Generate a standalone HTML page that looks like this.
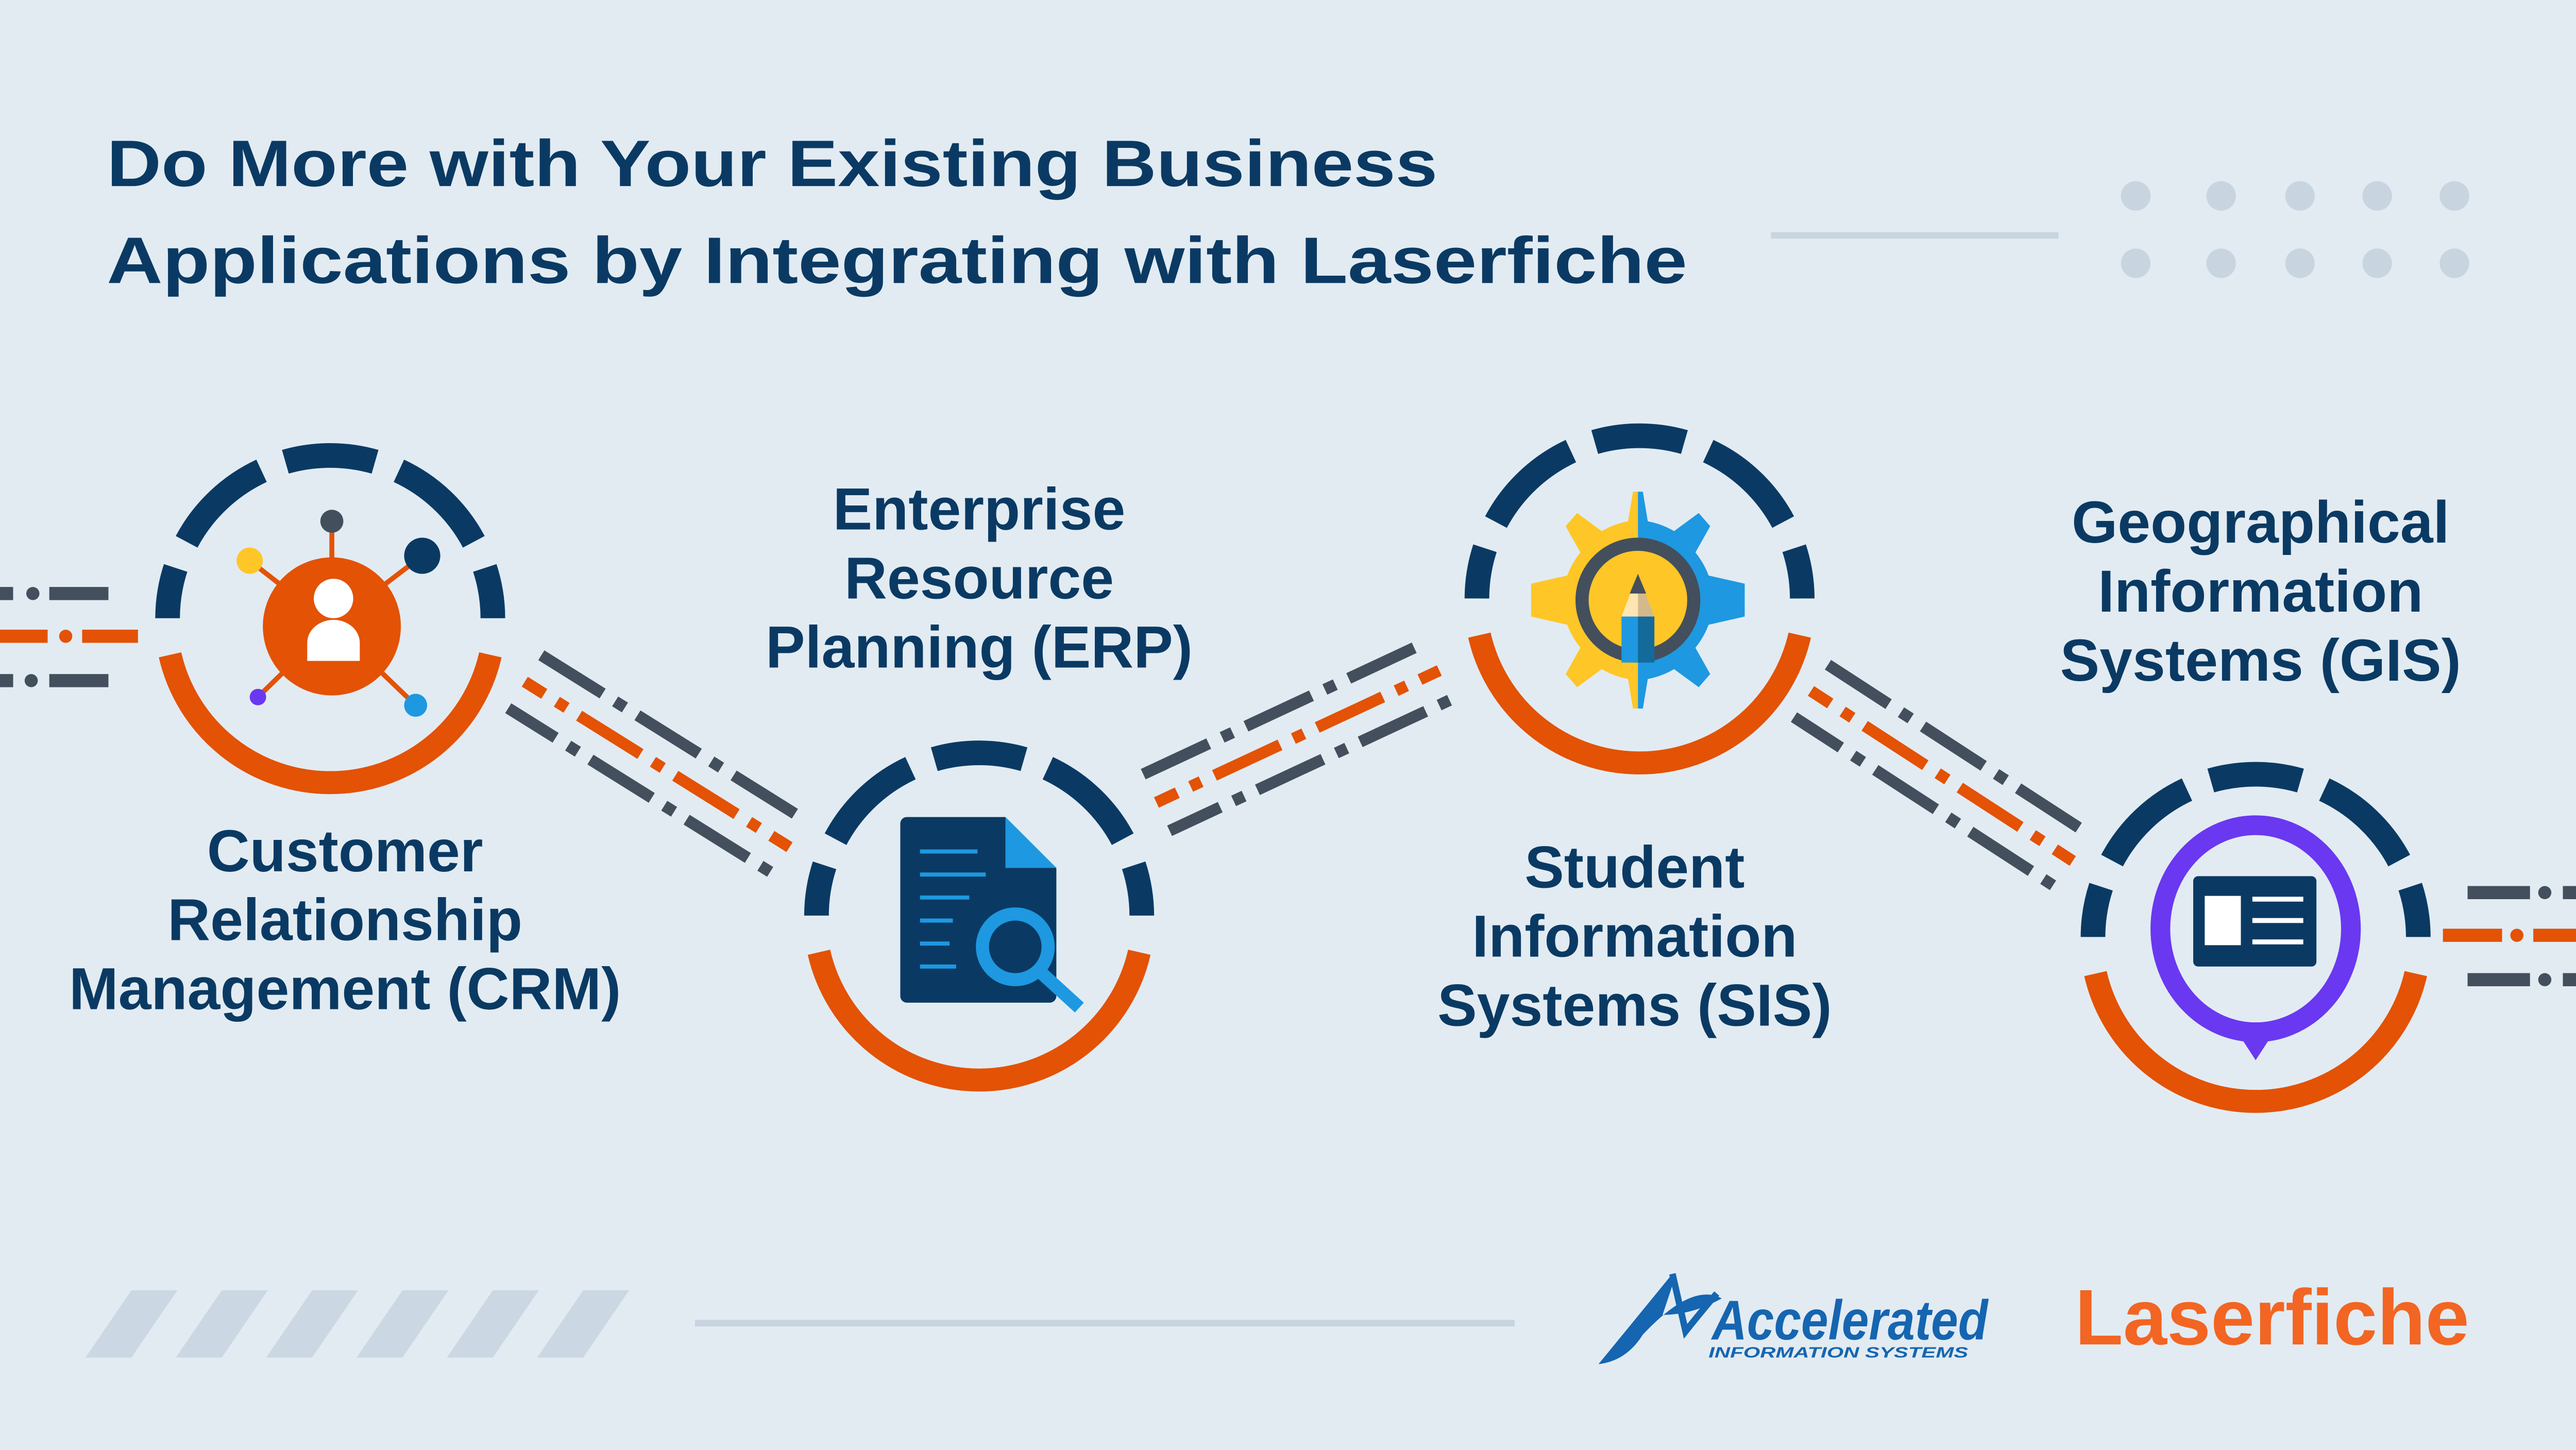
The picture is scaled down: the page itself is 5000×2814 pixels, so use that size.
<!DOCTYPE html>
<html><head><meta charset="utf-8"><style>
html,body{margin:0;padding:0;background:#e2ebf2;}
svg{display:block;}
text{font-family:"Liberation Sans",sans-serif;font-weight:bold;}
</style></head><body>
<svg width="5000" height="2814" viewBox="0 0 1568 882" xmlns="http://www.w3.org/2000/svg">
<rect width="1568" height="882" fill="#e2ebf2"/>
<defs>
<g id="ring">
  <g fill="none" stroke="#0a3a63" stroke-width="15">
    <path d="M99,0 A99,99 0 0 0 94.1,-30.6"/>
    <path d="M87.4,-46.5 A99,99 0 0 0 41.8,-89.7"/>
    <path d="M27.3,-95.2 A99,99 0 0 0 -27.3,-95.2"/>
    <path d="M-41.8,-89.7 A99,99 0 0 0 -87.4,-46.5"/>
    <path d="M-94.1,-30.6 A99,99 0 0 0 -99,0"/>
  </g>
  <path d="M-97.5,22.3 A100,100 0 0 0 97.5,22.3" fill="none" stroke="#e35205" stroke-width="14"/>
</g>
<g id="conn">
  <line x1="-95" y1="-19" x2="95" y2="-19" stroke="#434f5c" stroke-width="7" stroke-dasharray="44 9 7 9"/>
  <line x1="-95" y1="0" x2="95" y2="0" stroke="#e35205" stroke-width="7" stroke-dasharray="44 9 7 9" stroke-dashoffset="30"/>
  <line x1="-95" y1="19" x2="95" y2="19" stroke="#434f5c" stroke-width="7" stroke-dasharray="44 9 7 9" stroke-dashoffset="10"/>
</g>
</defs>

<text x="65" y="113" font-size="40" fill="#0a3a63" textLength="810" lengthAdjust="spacingAndGlyphs">Do More with Your Existing Business</text>
<text x="65" y="172" font-size="40" fill="#0a3a63" textLength="962" lengthAdjust="spacingAndGlyphs">Applications by Integrating with Laserfiche</text>
<line x1="1078" y1="143" x2="1253" y2="143" stroke="#c8d5e0" stroke-width="4"/>
<g fill="#c8d5e0">
<circle cx="1300" cy="119" r="9"/><circle cx="1352" cy="119" r="9"/><circle cx="1400" cy="119" r="9"/><circle cx="1447" cy="119" r="9"/><circle cx="1494" cy="119" r="9"/>
<circle cx="1300" cy="160" r="9"/><circle cx="1352" cy="160" r="9"/><circle cx="1400" cy="160" r="9"/><circle cx="1447" cy="160" r="9"/><circle cx="1494" cy="160" r="9"/>
</g>

<g stroke-width="8">
<line x1="0" y1="361" x2="8" y2="361" stroke="#434f5c"/>
<line x1="30" y1="361" x2="66" y2="361" stroke="#434f5c"/>
<line x1="0" y1="387" x2="29" y2="387" stroke="#e35205"/>
<line x1="50" y1="387" x2="84" y2="387" stroke="#e35205"/>
<line x1="0" y1="414" x2="8" y2="414" stroke="#434f5c"/>
<line x1="30" y1="414" x2="66" y2="414" stroke="#434f5c"/>
<line x1="1502" y1="543" x2="1540" y2="543" stroke="#434f5c"/>
<line x1="1560" y1="543" x2="1568" y2="543" stroke="#434f5c"/>
<line x1="1487" y1="569" x2="1523" y2="569" stroke="#e35205"/>
<line x1="1542" y1="569" x2="1568" y2="569" stroke="#e35205"/>
<line x1="1502" y1="596" x2="1540" y2="596" stroke="#434f5c"/>
<line x1="1560" y1="596" x2="1568" y2="596" stroke="#434f5c"/>
</g>
<circle cx="20" cy="361" r="4" fill="#434f5c"/><circle cx="40" cy="387" r="4" fill="#e35205"/><circle cx="19" cy="414" r="4" fill="#434f5c"/>
<circle cx="1549" cy="543" r="4" fill="#434f5c"/><circle cx="1532" cy="569" r="4" fill="#e35205"/><circle cx="1549" cy="596" r="4" fill="#434f5c"/>

<use href="#conn" transform="translate(400,465) rotate(32)"/>
<use href="#conn" transform="translate(790,448) rotate(-25)"/>
<use href="#conn" transform="translate(1182,472) rotate(33)"/>

<use href="#ring" transform="translate(201,376)"/>
<use href="#ring" transform="translate(596,557)"/>
<use href="#ring" transform="translate(998,364)"/>
<use href="#ring" transform="translate(1373,570)"/>

<g stroke="#e35205" stroke-width="3">
<line x1="202" y1="380" x2="202" y2="318"/><line x1="202" y1="380" x2="257" y2="338"/>
<line x1="202" y1="380" x2="152" y2="341"/><line x1="202" y1="380" x2="157" y2="424"/>
<line x1="202" y1="380" x2="253" y2="429"/>
</g>
<circle cx="202" cy="381" r="42" fill="#e35205"/>
<circle cx="203" cy="364" r="12" fill="#fff"/>
<path d="M187,402 v-11 a16,14 0 0 1 32,0 v11 z" fill="#fff"/>
<circle cx="202" cy="317" r="7" fill="#434f5c"/>
<circle cx="257" cy="338" r="11" fill="#0a3a63"/>
<circle cx="152" cy="341" r="8" fill="#ffc627"/>
<circle cx="157" cy="424" r="5" fill="#6a38f0"/>
<circle cx="253" cy="429" r="7" fill="#1e98e0"/>

<path d="M552,497 H612 L643,528 V606 a4,4 0 0 1 -4,4 H552 a4,4 0 0 1 -4,-4 V501 a4,4 0 0 1 4,-4z" fill="#0a3a63"/>
<path d="M612,497 L643,528 H612z" fill="#1e98e0"/>
<g stroke="#1e98e0" stroke-width="2.5">
<line x1="560" y1="518" x2="595" y2="518"/><line x1="560" y1="532" x2="600" y2="532"/>
<line x1="560" y1="546" x2="590" y2="546"/><line x1="560" y1="560" x2="580" y2="560"/>
<line x1="560" y1="574" x2="578" y2="574"/><line x1="560" y1="588" x2="582" y2="588"/>
</g>
<line x1="634" y1="592" x2="657" y2="613" stroke="#1e98e0" stroke-width="8"/>
<circle cx="618" cy="576" r="24" fill="#1e98e0"/>
<circle cx="618" cy="576" r="16" fill="#0a3a63"/>

<g transform="translate(997,365)">
<g fill="#ffc627">
<path d="M0,-66 v132 h-3 l-3,-18 a50,50 0 0 1 -16,-6 l-15,11 l-7,-8 l9,-16 a50,50 0 0 1 -8,-14 l-22,-5 v-20 l22,-5 a50,50 0 0 1 8,-14 l-9,-16 l7,-8 l15,11 a50,50 0 0 1 16,-6 l3,-18z"/>
</g>
<g fill="#1e98e0" transform="scale(-1,1)">
<path d="M0,-66 v132 h-3 l-3,-18 a50,50 0 0 1 -16,-6 l-15,11 l-7,-8 l9,-16 a50,50 0 0 1 -8,-14 l-22,-5 v-20 l22,-5 a50,50 0 0 1 8,-14 l-9,-16 l7,-8 l15,11 a50,50 0 0 1 16,-6 l3,-18z"/>
</g>
<circle r="34" fill="#ffc627" stroke="#434f5c" stroke-width="8"/>
<path d="M-10,10 L0,-16 L10,10z" fill="#fde6b4"/>
<path d="M0,-16 L10,10 H0z" fill="#d4b98a"/>
<path d="M-5,-4 L0,-16 L5,-4z" fill="#434f5c"/>
<rect x="-10" y="10" width="20" height="28" fill="#1e98e0"/>
<rect x="0" y="10" width="10" height="28" fill="#146a9a"/>
</g>

<path d="M1373,645 L1358,622 L1388,622z" fill="#6a38f0"/>
<ellipse cx="1373" cy="565" rx="58" ry="63" fill="none" stroke="#6a38f0" stroke-width="12"/>
<rect x="1335" y="533" width="75" height="55" rx="3" fill="#0a3a63"/>
<rect x="1342" y="545" width="22" height="30" fill="#fff"/>
<g stroke="#fff" stroke-width="3"><line x1="1371" y1="547" x2="1402" y2="547"/><line x1="1371" y1="560" x2="1402" y2="560"/><line x1="1371" y1="573" x2="1402" y2="573"/></g>

<g font-size="36" fill="#0a3a63" text-anchor="middle">
<text x="210" y="530">Customer</text>
<text x="210" y="572">Relationship</text>
<text x="210" y="614">Management (CRM)</text>
<text x="596" y="322">Enterprise</text>
<text x="596" y="364">Resource</text>
<text x="596" y="406">Planning (ERP)</text>
<text x="995" y="540">Student</text>
<text x="995" y="582">Information</text>
<text x="995" y="624">Systems (SIS)</text>
<text x="1376" y="330">Geographical</text>
<text x="1376" y="372">Information</text>
<text x="1376" y="414">Systems (GIS)</text>
</g>

<g fill="#cbd8e3">
<path d="M52,826 L80,785 H108 L80,826z"/>
<path d="M107,826 L135,785 H163 L135,826z"/>
<path d="M162,826 L190,785 H218 L190,826z"/>
<path d="M217,826 L245,785 H273 L245,826z"/>
<path d="M272,826 L300,785 H328 L300,826z"/>
<path d="M327,826 L355,785 H383 L355,826z"/>
</g>
<line x1="423" y1="805" x2="922" y2="805" stroke="#c8d5e0" stroke-width="4"/>

<path d="M1018,775 L973,830 Q990,828 1000,812 Q1030,780 1048,790 Q1030,800 1012,800 L1020,776z" fill="#1565b0"/>
<path d="M1018,775 L1026,810 Q1038,795 1045,787" fill="none" stroke="#1565b0" stroke-width="4"/>
<text x="1042" y="815" font-size="34" font-style="italic" fill="#1565b0" textLength="168" lengthAdjust="spacingAndGlyphs">Accelerated</text>
<text x="1040" y="826" font-size="9" font-weight="normal" font-style="italic" fill="#1565b0" textLength="158" lengthAdjust="spacingAndGlyphs">INFORMATION SYSTEMS</text>
<text x="1263" y="818" font-size="48" fill="#f26522" textLength="240" lengthAdjust="spacingAndGlyphs">Laserfiche</text>
</svg>
</body></html>
